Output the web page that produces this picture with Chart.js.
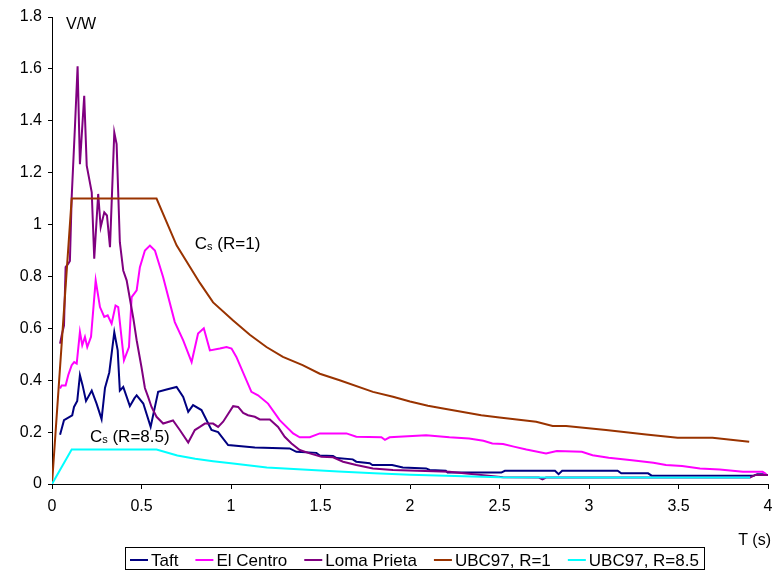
<!DOCTYPE html>
<html>
<head>
<title>V/W spectra vs UBC97</title>
<script src="https://cdn.jsdelivr.net/npm/chart.js"></script>
<style>
    body { margin: 0; background: #fff; }
    .wrap { width: 774px; height: 570px; position: relative; }
</style>
</head>
<body>
<div class="wrap"><canvas id="spectra"></canvas></div>
<script>
// values
const taftT = [0.045, 0.067, 0.113, 0.123, 0.141, 0.156, 0.171, 0.19, 0.222, 0.249, 0.277, 0.296, 0.32, 0.348, 0.367, 0.379, 0.398, 0.435, 0.46, 0.473, 0.51, 0.551, 0.593, 0.64, 0.696, 0.733, 0.761, 0.788, 0.835, 0.891, 0.928, 0.984, 1.133, 1.328, 1.365, 1.477, 1.496, 1.57, 1.59, 1.68, 1.70, 1.775, 1.79, 1.90, 1.96, 2.09, 2.11, 2.20, 2.21, 2.51, 2.53, 2.81, 2.83, 2.85, 3.16, 3.18, 3.33, 3.35, 3.92, 3.94, 3.99];
const taftV = [0.19, 0.246, 0.265, 0.297, 0.32, 0.42, 0.38, 0.32, 0.36, 0.31, 0.25, 0.37, 0.43, 0.585, 0.515, 0.36, 0.374, 0.30, 0.33, 0.342, 0.31, 0.22, 0.355, 0.364, 0.374, 0.336, 0.278, 0.304, 0.285, 0.208, 0.20, 0.15, 0.141, 0.137, 0.124, 0.12, 0.11, 0.108, 0.10, 0.095, 0.086, 0.08, 0.073, 0.073, 0.064, 0.06, 0.054, 0.051, 0.044, 0.044, 0.051, 0.051, 0.038, 0.051, 0.051, 0.041, 0.041, 0.032, 0.032, 0.038, 0.038];

const elCentroT = [0.045, 0.054, 0.076, 0.091, 0.11, 0.124, 0.138, 0.156, 0.169, 0.184, 0.197, 0.218, 0.244, 0.268, 0.292, 0.311, 0.333, 0.355, 0.37, 0.402, 0.43, 0.445, 0.473, 0.491, 0.519, 0.547, 0.575, 0.621, 0.686, 0.733, 0.78, 0.816, 0.848, 0.882, 0.9375, 0.975, 1.003, 1.03, 1.114, 1.151, 1.207, 1.272, 1.347, 1.384, 1.44, 1.496, 1.645, 1.70, 1.84, 1.86, 1.886, 2.09, 2.22, 2.33, 2.41, 2.46, 2.52, 2.58, 2.65, 2.76, 2.82, 2.96, 3.02, 3.11, 3.24, 3.36, 3.43, 3.52, 3.62, 3.73, 3.86, 3.97, 3.99];
const elCentroV = [0.368, 0.38, 0.38, 0.42, 0.458, 0.47, 0.464, 0.586, 0.535, 0.567, 0.528, 0.567, 0.785, 0.682, 0.644, 0.65, 0.618, 0.688, 0.682, 0.477, 0.528, 0.72, 0.746, 0.836, 0.90, 0.919, 0.90, 0.797, 0.624, 0.554, 0.47, 0.58, 0.60, 0.515, 0.522, 0.528, 0.522, 0.49, 0.355, 0.342, 0.31, 0.246, 0.195, 0.18, 0.18, 0.195, 0.195, 0.182, 0.18, 0.17, 0.18, 0.188, 0.18, 0.175, 0.167, 0.156, 0.154, 0.144, 0.133, 0.118, 0.127, 0.124, 0.111, 0.101, 0.092, 0.082, 0.073, 0.069, 0.06, 0.056, 0.047, 0.047, 0.038];

const lomaT = [0.045, 0.054, 0.067, 0.076, 0.091, 0.10, 0.11, 0.128, 0.143, 0.156, 0.18, 0.194, 0.222, 0.236, 0.258, 0.272, 0.292, 0.307, 0.324, 0.348, 0.361, 0.379, 0.398, 0.417, 0.454, 0.473, 0.50, 0.519, 0.537, 0.556, 0.584, 0.621, 0.676, 0.714, 0.761, 0.798, 0.826, 0.854, 0.90, 0.928, 0.956, 1.012, 1.04, 1.068, 1.095, 1.133, 1.161, 1.217, 1.263, 1.30, 1.338, 1.384, 1.44, 1.505, 1.57, 1.626, 1.70, 1.793, 1.905, 2.22, 2.52, 2.72, 2.74, 2.76, 3.5, 3.9, 3.93, 4.0];
const lomaV = [0.541, 0.573, 0.61, 0.836, 0.849, 0.86, 1.105, 1.374, 1.61, 1.233, 1.496, 1.227, 1.124, 0.868, 1.118, 0.99, 1.047, 1.035, 0.913, 1.355, 1.31, 0.932, 0.823, 0.785, 0.64, 0.554, 0.45, 0.37, 0.336, 0.297, 0.259, 0.233, 0.245, 0.208, 0.16, 0.208, 0.22, 0.233, 0.233, 0.22, 0.24, 0.30, 0.297, 0.274, 0.265, 0.259, 0.249, 0.249, 0.22, 0.182, 0.156, 0.131, 0.118, 0.105, 0.103, 0.086, 0.073, 0.06, 0.054, 0.047, 0.026, 0.025, 0.018, 0.025, 0.025, 0.025, 0.035, 0.035];

const ubc1T = [0, 0.11, 0.584, 0.696, 0.826, 0.9, 1.012, 1.105, 1.198, 1.29, 1.40, 1.496, 1.607, 1.793, 1.905, 2.0, 2.1, 2.193, 2.398, 2.5, 2.705, 2.797, 2.872, 3.095, 3.319, 3.495, 3.69, 3.895];
const ubc1V = [0, 1.1, 1.1, 0.92, 0.775, 0.70, 0.63, 0.575, 0.528, 0.49, 0.458, 0.425, 0.40, 0.355, 0.336, 0.318, 0.302, 0.29, 0.265, 0.256, 0.24, 0.224, 0.224, 0.208, 0.191, 0.178, 0.178, 0.163];

const ubc85T = [0, 0.11, 0.584, 0.70, 0.80, 0.90, 1.0, 1.2, 1.4, 1.6, 1.8, 2.0, 2.2, 2.5, 3.0, 3.5, 3.9];
const ubc85V = [0, 0.133, 0.133, 0.11, 0.097, 0.088, 0.08, 0.064, 0.056, 0.048, 0.041, 0.036, 0.032, 0.026, 0.025, 0.025, 0.025];

const seriesNames = ['Taft', 'El Centro', 'Loma Prieta', 'UBC97, R=1', 'UBC97, R=8.5'];
const seriesColors = ['#000080', '#ff00ff', '#800080', '#993300', '#00ffff'];

const xTicks = [0, 0.5, 1, 1.5, 2, 2.5, 3, 3.5, 4];
const yTicks = [0, 0.2, 0.4, 0.6, 0.8, 1, 1.2, 1.4, 1.6, 1.8];

const FONT = "'Liberation Sans', Arial, sans-serif";

function pairs(ts, vs) {
    return ts.map((t, i) => ({ x: t, y: vs[i] }));
}

const seriesData = [
    pairs(taftT, taftV),
    pairs(elCentroT, elCentroV),
    pairs(lomaT, lomaV),
    pairs(ubc1T, ubc1V),
    pairs(ubc85T, ubc85V)
];

// C with a small s, then the rest
function drawCs(ctx, x, y, rest) {
    ctx.font = '17px ' + FONT;
    ctx.fillText('C', x, y);
    let w = ctx.measureText('C').width;
    ctx.font = '11px ' + FONT;
    ctx.fillText('s', x + w, y + 1);
    w += ctx.measureText('s').width;
    ctx.font = '17px ' + FONT;
    ctx.fillText(' ' + rest, x + w, y);
}

const textPlugin = {
    id: 'textPlugin',
    afterDraw(chart) {
        const ctx = chart.ctx;
        const xs = chart.scales.x, ys = chart.scales.y;
        ctx.save();
        ctx.fillStyle = '#000';
        ctx.textBaseline = 'alphabetic';

        ctx.font = '16px ' + FONT;
        ctx.textAlign = 'left';
        ctx.fillText('V/W', 66, 29);
        ctx.textAlign = 'right';
        ctx.fillText('T (s)', 771, 545);
        ctx.textAlign = 'left';

        drawCs(ctx, xs.getPixelForValue(0.798), ys.getPixelForValue(0.904), '(R=1)');
        drawCs(ctx, xs.getPixelForValue(0.212), ys.getPixelForValue(0.162), '(R=8.5)');

        // legend box
        ctx.font = '17px ' + FONT;
        const sw = 18, gapIn = 3, gapOut = 17, pad = 5;
        const widths = seriesNames.map(n => ctx.measureText(n).width);
        let total = pad * 2 + widths.reduce((a, b) => a + b, 0)
            + seriesNames.length * (sw + gapIn) + (seriesNames.length - 1) * gapOut;
        const left = Math.round(414 - total / 2);
        ctx.strokeStyle = '#000';
        ctx.lineWidth = 1;
        ctx.strokeRect(left + 0.5, 547.5, Math.round(total), 22);
        let x = left + pad;
        seriesNames.forEach((name, i) => {
            ctx.strokeStyle = seriesColors[i];
            ctx.lineWidth = 2;
            ctx.beginPath();
            ctx.moveTo(x, 560);
            ctx.lineTo(x + sw, 560);
            ctx.stroke();
            ctx.fillText(name, x + sw + gapIn, 566);
            x += sw + gapIn + widths[i] + gapOut;
        });
        ctx.restore();
    }
};

new Chart(document.getElementById('spectra'), {
    type: 'scatter',
    data: {
        datasets: seriesNames.map((name, i) => ({
            label: name,
            data: seriesData[i],
            showLine: true,
            borderColor: seriesColors[i],
            backgroundColor: seriesColors[i],
            borderWidth: 2,
            pointRadius: 0,
            tension: 0,
            order: seriesNames.length - i
        }))
    },
    options: {
        responsive: true,
        maintainAspectRatio: false,
        animation: false,
        devicePixelRatio: 1,
        layout: { padding: { left: 0, right: 0, top: 17, bottom: 0 } },
        plugins: {
            legend: { display: false },
            tooltip: { enabled: false }
        },
        scales: {
            x: {
                type: 'linear',
                min: 0,
                max: 4,
                afterBuildTicks: s => { s.ticks = xTicks.map(v => ({ value: v })); },
                afterFit: s => { s.height = 86; s.paddingRight = 6; },
                ticks: {
                    color: '#000',
                    font: { family: FONT, size: 16 },
                    padding: 8,
                    maxRotation: 0,
                    autoSkip: false,
                    callback: v => String(v)
                },
                grid: { drawOnChartArea: false, drawTicks: true, tickLength: 5, color: '#000' },
                border: { display: true, color: '#000', width: 1 }
            },
            y: {
                type: 'linear',
                min: 0,
                max: 1.8,
                afterBuildTicks: s => { s.ticks = yTicks.map(v => ({ value: v })); },
                afterFit: s => { s.width = 52; },
                ticks: {
                    color: '#000',
                    font: { family: FONT, size: 16 },
                    padding: 6,
                    autoSkip: false,
                    callback: v => String(v)
                },
                grid: { drawOnChartArea: false, drawTicks: true, tickLength: 4, color: '#000' },
                border: { display: true, color: '#000', width: 1 }
            }
        }
    },
    plugins: [textPlugin]
});
</script>
</body>
</html>
